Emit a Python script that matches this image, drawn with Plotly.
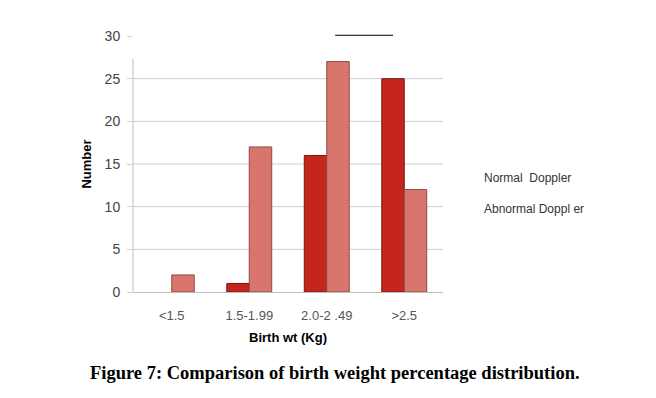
import plotly.graph_objects as go

categories = ["<1.5", "1.5-1.99", "2.0-2 .49", ">2.5"]
normal_doppler = [0, 1, 16, 25]
abnormal_doppler = [2, 17, 27, 12]
y_ticks = [0, 5, 10, 15, 20, 25, 30]
grid_values = [5, 10, 15, 20, 25]

fig = go.Figure()
fig.add_trace(go.Bar(
    x=categories, y=normal_doppler, name="Normal  Doppler",
    marker=dict(color="#c4261e",
                line=dict(color="#7d1611", width=[0 if v == 0 else 1 for v in normal_doppler])),
))
fig.add_trace(go.Bar(
    x=categories, y=abnormal_doppler, name="Abnormal Doppl er",
    marker=dict(color="#d8766e",
                line=dict(color="#8f4a44", width=[0 if v == 0 else 1 for v in abnormal_doppler])),
))

for g in grid_values:
    fig.add_shape(type="line", xref="paper", yref="y", x0=0, x1=1, y0=g, y1=g,
                  line=dict(color="#cfcfcf", width=1), layer="below")

# left axis line up to top of plot background
fig.add_shape(type="line", xref="paper", yref="y", x0=0, x1=0, y0=0, y1=27.3,
              line=dict(color="#bdbdbd", width=1), layer="below")
# stray line at top
fig.add_shape(type="line", xref="paper", yref="paper", x0=0.652, x1=0.839, y0=1.003, y1=1.003,
              line=dict(color="#000000", width=1.2))

fig.add_annotation(text="Normal  Doppler", xref="paper", yref="paper", x=1.126, y=0.445,
                   xanchor="left", yanchor="middle", showarrow=False,
                   font=dict(family="Liberation Sans", size=12, color="#333333"))
fig.add_annotation(text="Abnormal Doppl er", xref="paper", yref="paper", x=1.126, y=0.324,
                   xanchor="left", yanchor="middle", showarrow=False,
                   font=dict(family="Liberation Sans", size=12, color="#333333"))
fig.add_annotation(text="<b>Figure 7: Comparison of birth weight percentage distribution.</b>",
                   xref="paper", yref="paper", x=(335 - 133) / 310, y=(292 - 373) / 256.5,
                   xanchor="center", yanchor="middle", showarrow=False,
                   font=dict(family="Liberation Serif", size=18.5, color="#000000"))

fig.update_layout(
    width=656, height=398,
    margin=dict(l=125, r=221, t=28, b=114),
    paper_bgcolor="white", plot_bgcolor="white",
    barmode="group", bargap=0.42, bargroupgap=0,
    showlegend=False,
    font=dict(family="Liberation Sans", color="#444444"),
)
fig.update_xaxes(
    showgrid=False, showline=True, linecolor="#bdbdbd", linewidth=1,
    tickfont=dict(size=13, color="#555555"), ticks="", ticklabelstandoff=11,
    title=dict(text="<b>Birth wt (Kg)</b>", font=dict(size=13, color="#000000"), standoff=11),
)
fig.update_yaxes(
    range=[0, 30], tickvals=y_ticks, showgrid=False, showline=False, zeroline=False,
    ticks="outside", ticklen=5, tickcolor="#cccccc", ticklabelstandoff=4,
    tickfont=dict(size=14, color="#444444"),
    title=dict(text="<b>Number</b>", font=dict(size=13, color="#000000"), standoff=10),
)

fig.write_html("out.html")
